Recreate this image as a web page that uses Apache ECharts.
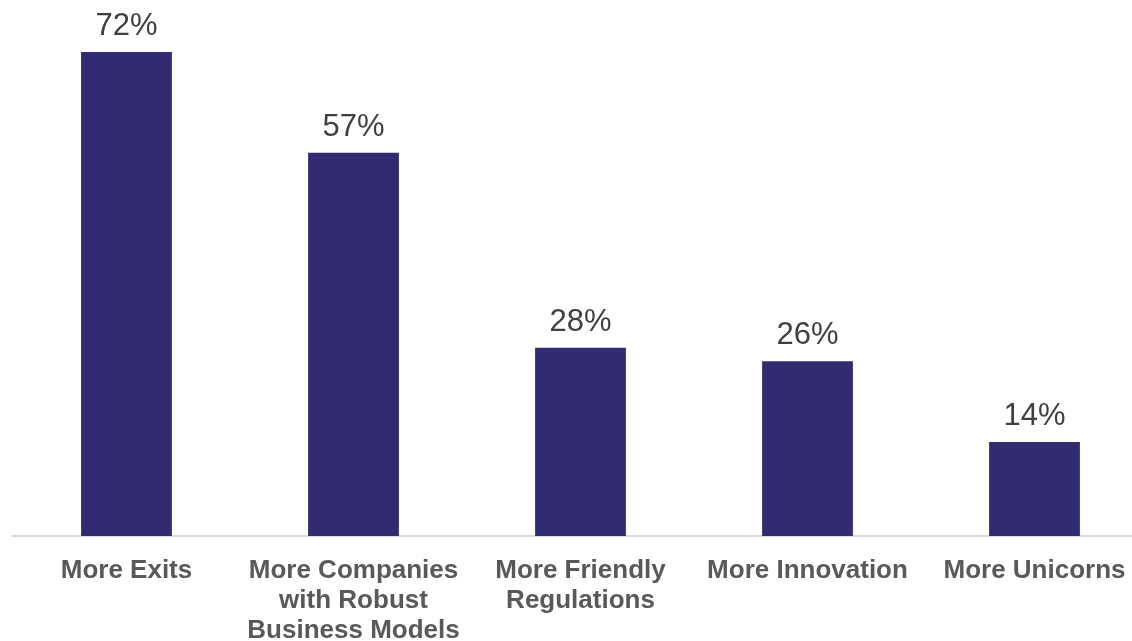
<!DOCTYPE html>
<html>
<head>
<meta charset="utf-8">
<script src="https://cdn.jsdelivr.net/npm/echarts@6/dist/echarts.min.js"></script>
<style>
  html, body { margin: 0; padding: 0; background: #ffffff; }
  #chart { width: 1132px; height: 641px; }
</style>
</head>
<body>
<div id="chart"></div>
<script>
// Survey outcomes, share of respondents (%)
const categories = [
  'More Exits',
  'More Companies\nwith Robust\nBusiness Models',
  'More Friendly\nRegulations',
  'More Innovation',
  'More Unicorns'
];
const shares = [72, 57, 28, 26, 14];

const chart = echarts.init(document.getElementById('chart'));
chart.setOption({
  animation: false,
  grid: {
    left: 13, width: 1135, top: 52, bottom: 105,
    containLabel: false,
    outerBoundsMode: 'none'
  },
  xAxis: {
    type: 'category',
    data: categories,
    axisLine: { show: true, lineStyle: { color: '#D9D9D9', width: 2 } },
    axisTick: { show: false },
    axisLabel: {
      interval: 0,
      margin: 20,
      color: '#595959',
      fontFamily: 'Liberation Sans, Arial, sans-serif',
      fontWeight: 'bold',
      fontSize: 26,
      lineHeight: 30
    }
  },
  yAxis: {
    type: 'value',
    min: 0,
    max: 72,
    show: false,
    splitLine: { show: false }
  },
  series: [{
    type: 'bar',
    data: shares,
    barWidth: '40%',
    itemStyle: { color: '#312B73' },
    label: {
      show: true,
      position: 'top',
      distance: 10,
      formatter: '{c}%',
      color: '#404040',
      fontFamily: 'Liberation Sans, Arial, sans-serif',
      fontSize: 31
    }
  }]
});
</script>
</body>
</html>
